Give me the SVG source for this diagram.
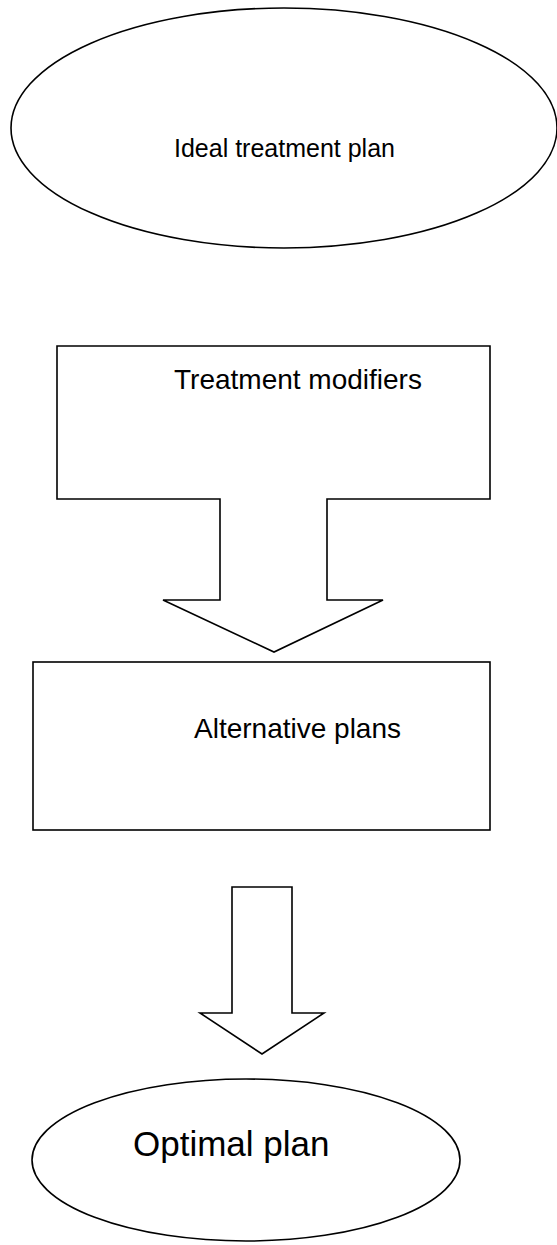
<svg xmlns="http://www.w3.org/2000/svg" width="557" height="1245" viewBox="0 0 557 1245">
<style>
.s{fill:#fff;stroke:#000;stroke-width:1.6;stroke-linejoin:miter}
.t{font-family:"Liberation Sans",Arial,sans-serif;fill:#000}
</style>
<rect width="557" height="1245" fill="#fff"/>
<g id="ideal">
<ellipse class="s" cx="284" cy="128" rx="273" ry="120"/>
<text class="t" x="174" y="157" font-size="25">Ideal treatment plan</text>
</g>
<g id="modifiers">
<path class="s" d="M57,346 H490 V499 H327 V600 H383 L274,652 L163,600 H220 V499 H57 Z"/>
<text class="t" x="174" y="389" font-size="28">Treatment modifiers</text>
</g>
<g id="alternatives">
<rect class="s" x="33" y="662" width="457" height="168"/>
<text class="t" x="194" y="738" font-size="28">Alternative plans</text>
</g>
<g id="connectors">
<path class="s" d="M232,887 H292 V1013 H324 L262,1054 L200,1013 H232 Z"/>
</g>
<g id="optimal">
<ellipse class="s" cx="246" cy="1160" rx="214" ry="81"/>
<text class="t" x="133" y="1156" font-size="35">Optimal plan</text>
</g>
</svg>
